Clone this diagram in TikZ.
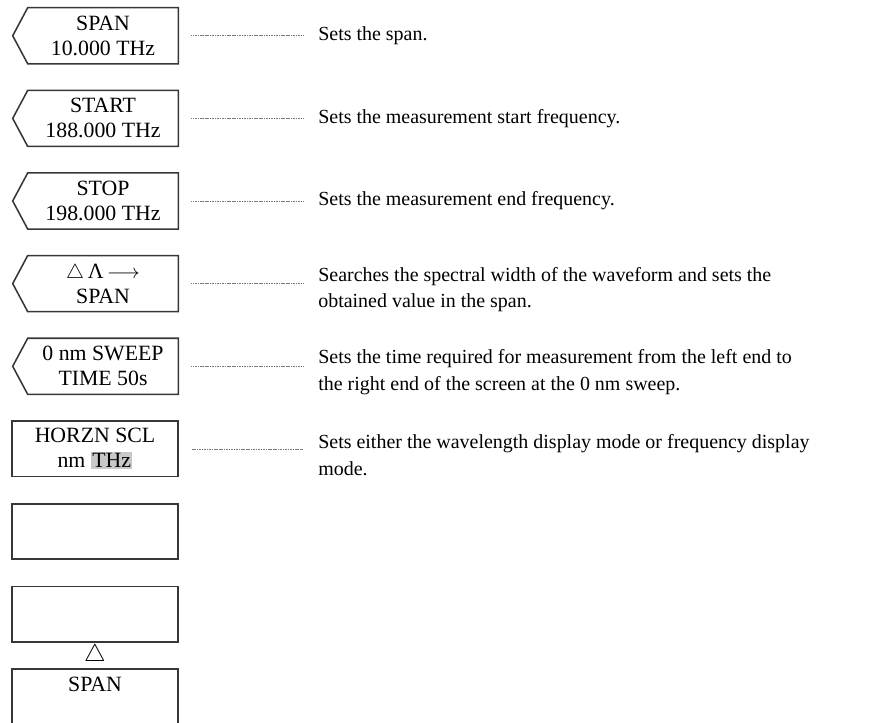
\documentclass[tikz,border=0pt]{standalone}
\usepackage{fontspec}
\setmainfont{Liberation Serif}
\usepackage{xcolor}
\usepackage{tikz}
\usetikzlibrary{calc}
\definecolor{keyline}{RGB}{55,55,55}
\definecolor{leadgray}{RGB}{120,120,120}
\definecolor{hilite}{RGB}{200,200,200}
\newcommand{\keyfont}{\fontsize{15.5}{17.8}\selectfont}
\newcommand{\descfont}{\fontsize{14.2}{18.8}\selectfont}
\setlength{\fboxsep}{1pt}
\tikzset{
  softkey/.style={rectangle,draw=keyline,line width=1.1pt,minimum width=4.15cm,
              minimum height=1.3875cm,inner sep=0pt,align=center,font=\keyfont},
  arrowkey/.style={rectangle,minimum width=3.75cm,minimum height=1.3875cm,
              inner sep=0pt,align=center,font=\keyfont},
  keyedge/.style={draw=keyline,line width=1.1pt,line join=miter},
  desc/.style={anchor=west,inner sep=0pt,align=left,font=\descfont},
  lead/.style={draw=leadgray,line width=0.5pt,dash pattern=on 0.8pt off 0.4pt},
}

\begin{document}
\begin{tikzpicture}[x=0.025cm,y=-0.025cm]
  \useasboundingbox (0,0) rectangle (884,723);
  % soft keys
  \node[arrowkey] (span) at (103,35.75) {SPAN\\10.000 THz};
  \node[arrowkey] (start) at (103,118.4) {START\\188.000 THz};
  \node[arrowkey] (stop) at (103,201) {STOP\\198.000 THz};
  \node[arrowkey] (peak) at (103,283.6) {$\triangle$\,Λ\,$\longrightarrow$\\SPAN};
  \node[arrowkey] (sweep) at (103,366.3) {0 nm SWEEP\\TIME 50s};
  \node[softkey] (horzn) at (95,448.9) {HORZN SCL\\nm \colorbox{hilite}{THz}};
  \node[softkey] (blanka) at (95,531.5) {};
  \node[softkey] (blankb) at (95,614.1) {};
  \node[font=\fontsize{19}{19}\selectfont,inner sep=0pt] (tri) at (95,655) {$\triangle$};
  \node[softkey] (spanb) at (95,696.8) {SPAN\\~};
  \foreach \k in {span,start,stop,peak,sweep}
    \draw[keyedge] (\k.north west) -- (\k.north east) -- (\k.south east)
      -- (\k.south west) -- ($(\k.west)+(-15,0)$) -- cycle;

  % descriptions
  \node[desc] (dspan) at (318,35.75) {Sets the span.};
  \node[desc] (dstart) at (318,118.4) {Sets the measurement start frequency.};
  \node[desc] (dstop) at (318,201) {Sets the measurement end frequency.};
  \node[desc] (dpeak) at (318,289.6) {Searches the spectral width of the waveform and sets the\\obtained value in the span.};
  \node[desc] (dsweep) at (318,372.3) {Sets the time required for measurement from the left end to\\the right end of the screen at the 0 nm sweep.};
  \node[desc] (dhorzn) at (318,454.9) {Sets either the wavelength display mode or frequency display\\mode.};

  \foreach \k in {span,start,stop,peak,sweep,horzn}
    \draw[lead] ($(\k.east)+(13,0)$) -- ($(\k.east -| d\k.west)+(-15,0)$);
\end{tikzpicture}
\end{document}
